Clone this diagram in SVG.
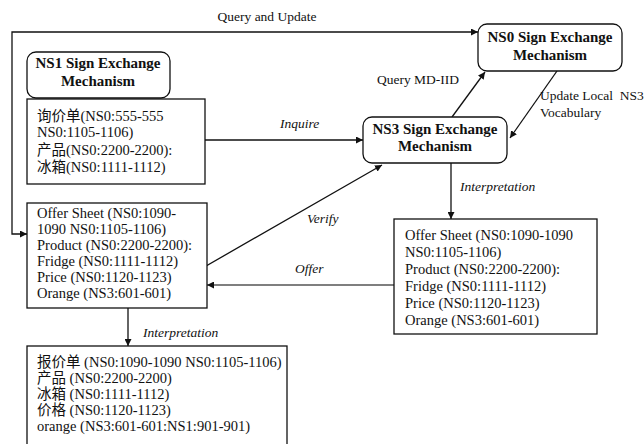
<svg xmlns="http://www.w3.org/2000/svg" width="644" height="444" viewBox="0 0 644 444">
<style>
text{font-family:'Liberation Serif','Noto Sans CJK SC',serif;fill:#111}
.t{font-size:14.5px}
.l{font-size:13.5px}
.i{font-size:13.5px;font-style:italic}
.h{font-size:15px;font-weight:bold;text-anchor:middle}
.box{fill:#fff;stroke:#111;stroke-width:1.3}
.c{fill:none;stroke:#111;stroke-width:1.3}
</style>
<defs>
<marker id="a" viewBox="0 0 10 10" refX="10" refY="5" markerWidth="7" markerHeight="7" markerUnits="userSpaceOnUse" orient="auto-start-reverse"><path d="M0,0 L10,5 L0,10 z" fill="#111"/></marker>
</defs>
<rect width="644" height="444" fill="#fff"/>
<g id="connectors">
<path class="c" d="M27,234 L12,234 L12,32 L478,32" marker-start="url(#a)" marker-end="url(#a)"/>
<path class="c" d="M205,140 L363,140" marker-end="url(#a)"/>
<path class="c" d="M452,117 L485,72" marker-end="url(#a)"/>
<path class="c" d="M557,71 L510,138" marker-end="url(#a)"/>
<path class="c" d="M451,163 L451,219" marker-end="url(#a)"/>
<path class="c" style="stroke:#555;stroke-width:1.6" d="M394,285 L207,285" marker-end="url(#a)"/>
<path class="c" d="M163,292 Q169,290 166,289 L382,165" marker-end="url(#a)"/>
<path class="c" d="M128,308 L128,346" marker-end="url(#a)"/>
<text class="l" x="267" y="21" text-anchor="middle">Query and Update</text>
<text class="i" x="280" y="128">Inquire</text>
<text class="l" x="377" y="84">Query MD-IID</text>
<text class="l" x="540" y="100" xml:space="preserve">Update Local  NS3</text>
<text class="l" x="540" y="117">Vocabulary</text>
<text class="i" x="460" y="191">Interpretation</text>
<text class="i" x="307" y="223">Verify</text>
<text class="i" x="295" y="273">Offer</text>
<text class="i" x="143" y="337">Interpretation</text>
</g>
<g id="ns1">
<rect class="box" x="27" y="52" width="143" height="46" rx="9"/>
<text class="h" x="98" y="68">NS1 Sign Exchange</text>
<text class="h" x="98" y="86">Mechanism</text>
</g>
<g id="ns1-doc">
<rect class="box" x="27" y="99" width="178" height="85"/>
<text class="t" x="37" y="121">询价单(NS0:555-555</text>
<text class="t" x="37" y="137">NS0:1105-1106)</text>
<text class="t" x="37" y="155">产品(NS0:2200-2200):</text>
<text class="t" x="37" y="172">冰箱(NS0:1111-1112)</text>
</g>
<g id="ns0">
<rect class="box" x="478" y="24" width="144" height="47" rx="9"/>
<text class="h" x="550" y="42">NS0 Sign Exchange</text>
<text class="h" x="550" y="60">Mechanism</text>
</g>
<g id="ns3">
<rect class="box" x="363" y="117" width="144" height="46" rx="9"/>
<text class="h" x="435" y="134">NS3 Sign Exchange</text>
<text class="h" x="435" y="151">Mechanism</text>
</g>
<g id="ns3-doc">
<rect class="box" x="394" y="219" width="203" height="115"/>
<text class="t" x="405" y="240">Offer Sheet (NS0:1090-1090</text>
<text class="t" x="405" y="257">NS0:1105-1106)</text>
<text class="t" x="405" y="274">Product (NS0:2200-2200):</text>
<text class="t" x="405" y="291">Fridge (NS0:1111-1112)</text>
<text class="t" x="405" y="308">Price (NS0:1120-1123)</text>
<text class="t" x="405" y="325">Orange (NS3:601-601)</text>
</g>
<g id="ns1-offer">
<rect class="box" x="27" y="203" width="180" height="105"/>
<text class="t" x="37" y="218">Offer Sheet (NS0:1090-</text>
<text class="t" x="37" y="234">1090 NS0:1105-1106)</text>
<text class="t" x="37" y="250">Product (NS0:2200-2200):</text>
<text class="t" x="37" y="266">Fridge (NS0:1111-1112)</text>
<text class="t" x="37" y="282">Price (NS0:1120-1123)</text>
<text class="t" x="37" y="298">Orange (NS3:601-601)</text>
</g>
<g id="ns1-interp">
<rect class="box" x="27" y="346" width="260" height="110"/>
<text class="t" x="37" y="367">报价单 (NS0:1090-1090 NS0:1105-1106)</text>
<text class="t" x="37" y="383">产品 (NS0:2200-2200)</text>
<text class="t" x="37" y="399">冰箱 (NS0:1111-1112)</text>
<text class="t" x="37" y="415">价格 (NS0:1120-1123)</text>
<text class="t" x="37" y="431">orange (NS3:601-601:NS1:901-901)</text>
</g>
</svg>
